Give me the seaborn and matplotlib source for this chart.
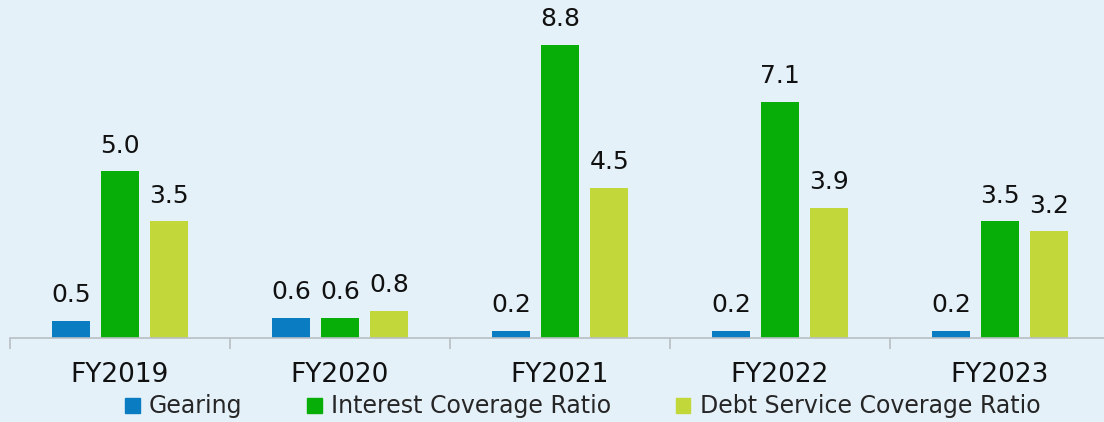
import matplotlib.pyplot as plt
import pandas as pd
import seaborn as sns

# data
years = ["FY2019", "FY2020", "FY2021", "FY2022", "FY2023"]
gearing = [0.5, 0.6, 0.2, 0.2, 0.2]
interest_cover = [5.0, 0.6, 8.8, 7.1, 3.5]
debt_service_cover = [3.5, 0.8, 4.5, 3.9, 3.2]

series = ["Gearing", "Interest Coverage Ratio", "Debt Service Coverage Ratio"]
colors = ["#0A7CC1", "#08AE08", "#C2D83A"]
bg = "#E4F1F9"
axis_grey = "#B8BEC4"

df = pd.DataFrame({"Year": years, series[0]: gearing,
                   series[1]: interest_cover, series[2]: debt_service_cover})
df = df.melt(id_vars="Year", var_name="Metric", value_name="Value")

sns.set_style("white")
plt.rcParams["font.family"] = ["DejaVu Sans"]

fig = plt.figure(figsize=(11.04, 4.22), dpi=100, facecolor=bg)
ax = fig.add_axes([10 / 1104, 84 / 422, 1100 / 1104, 338 / 422])
ax.set_facecolor(bg)

sns.barplot(data=df, x="Year", y="Value", hue="Metric", hue_order=series,
            palette=colors, width=0.67, gap=0.22, ax=ax, saturation=1,
            linewidth=0, edgecolor="none")

for cont in ax.containers:
    ax.bar_label(cont, fmt="%.1f", padding=10, fontsize=18, color="#111111")

ax.set_ylim(0, 10.15)
ax.set_xlim(-0.5, 4.5)
ax.set_xlabel("")
ax.set_ylabel("")
ax.set_yticks([])
for s in ["top", "right", "left"]:
    ax.spines[s].set_visible(False)
ax.spines["bottom"].set_color(axis_grey)
ax.spines["bottom"].set_linewidth(1.2)

# year labels centred, small ticks between the groups
ax.set_xticks(range(len(years)))
ax.set_xticklabels(years, fontsize=19, color="#111111")
ax.tick_params(axis="x", which="major", length=0, pad=17)
ax.set_xticks([i - 0.5 for i in range(len(years) + 1)], minor=True)
ax.tick_params(axis="x", which="minor", bottom=True, length=8,
               color=axis_grey, width=1.2, direction="out")

ax.legend_.remove()
handles = [plt.Rectangle((0, 0), 1, 1, color=c) for c in colors]
fig.legend(handles, series, loc="center", bbox_to_anchor=(0.528, 0.037),
           ncol=3, frameon=False, fontsize=17, handlelength=0.6,
           handleheight=0.6, handletextpad=0.4, columnspacing=2.75,
           borderaxespad=0, borderpad=0)

fig.savefig("out.png", dpi=100, facecolor=bg)
